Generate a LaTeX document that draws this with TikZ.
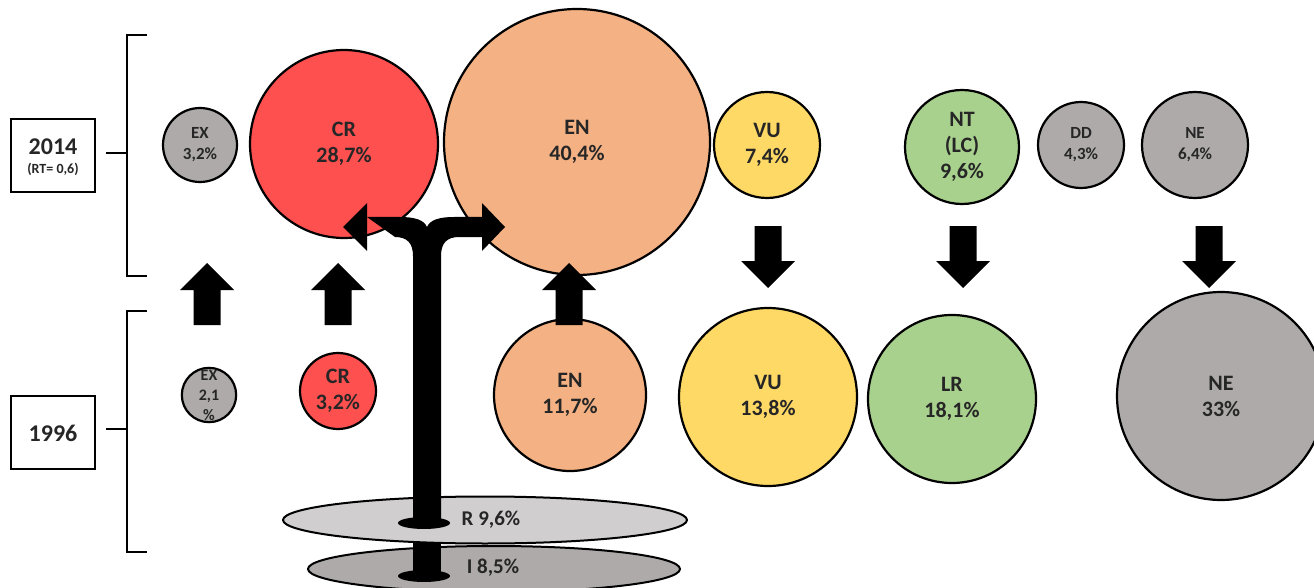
\documentclass[tikz,border=0pt]{standalone}
\usepackage{fontspec}
\setmainfont{Carlito}
\usetikzlibrary{shapes.geometric}
\definecolor{txt}{HTML}{262626}
\definecolor{crc}{HTML}{FF5050}
\definecolor{enc}{HTML}{F4B183}
\definecolor{vuc}{HTML}{FFD966}
\definecolor{ntc}{HTML}{A9D18E}
\definecolor{grc}{HTML}{AEAAAA}
\definecolor{rc}{HTML}{D0CECE}
\tikzset{
  circ/.style={circle, draw=black, line width=2.2pt, inner sep=0pt, align=center, text=txt,
    font=\bfseries\fontsize{22}{26}\selectfont},
  smalltxt/.style={font=\bfseries\fontsize{17}{21}\selectfont},
  yearbox/.style={draw=black, line width=2.2pt, minimum width=84pt, minimum height=73pt, inner sep=0pt},
  yeartxt/.style={text=txt, inner sep=0pt, font=\bfseries\fontsize{24}{26}\selectfont},
  brack/.style={line width=2.2pt},
  disc/.style={ellipse, draw=black, line width=2pt, inner sep=0pt},
  lab/.style={text=txt, font=\bfseries\fontsize{21}{24}\selectfont},
  uparr/.pic={\fill[black] (0,0) -- (27,27) -- (13.5,27) -- (13.5,62) -- (-13.5,62) -- (-13.5,27) -- (-27,27) -- cycle;},
  downarr/.pic={\fill[black] (0,0) -- (27,-27) -- (13.5,-27) -- (13.5,-62) -- (-13.5,-62) -- (-13.5,-27) -- (-27,-27) -- cycle;}
}
\begin{document}
\begin{tikzpicture}[x=1pt,y=-1pt]
\useasboundingbox (0,0) rectangle (1314,588);
\clip (0,0) rectangle (1314,588);
% year boxes and brackets
\node[yearbox] (y2014) at (53,155.5) {};
\node[yeartxt] (t2014) at (53,147) {2014};
\node[yeartxt, font=\bfseries\fontsize{14}{16}\selectfont] (rt2014) at (53,169) {(RT= 0,6)};
\node[yearbox] (y1996) at (53,432.5) {};
\node[yeartxt] (t1996) at (53,433) {1996};
\coordinate (b1t) at (147,35); \coordinate (b1b) at (147,276); \coordinate (b1m) at (106,153);
\coordinate (b2t) at (147,311); \coordinate (b2b) at (147,552); \coordinate (b2m) at (106,429);
\draw[brack] (b1t) -- (127,35) -- (127,276) -- (b1b);
\draw[brack] (b1m) -- (127,153);
\draw[brack] (b2t) -- (127,311) -- (127,552) -- (b2b);
\draw[brack] (b2m) -- (127,429);
% 2014 circles
\node[circ, fill=grc, minimum size=74pt, smalltxt] (ex14) at (200,145) {EX\\3,2\%};
\node[circ, fill=crc, minimum size=188pt] (cr14) at (344,144) {CR\\28,7\%};
\node[circ, fill=enc, minimum size=266pt] (en14) at (577,142) {EN\\40,4\%};
\node[circ, fill=vuc, minimum size=106pt] (vu14) at (767,145) {VU\\7,4\%};
\node[circ, fill=ntc, minimum size=114pt] (nt14) at (962,147) {NT\\(LC)\\9,6\%};
\node[circ, fill=grc, minimum size=86pt, smalltxt] (dd14) at (1081,145) {DD\\4,3\%};
\node[circ, fill=grc, minimum size=106pt, smalltxt] (ne14) at (1195,145) {NE\\6,4\%};
% 1996 circles
\node[circ, fill=grc, minimum size=52pt, font=\bfseries\fontsize{16}{20}\selectfont] (ex96) at (209,395) {EX\\2,1\\\%};
\node[circ, fill=crc, minimum size=76pt] (cr96) at (338,391) {CR\\3,2\%};
\node[circ, fill=enc, minimum size=152pt] (en96) at (570,395) {EN\\11,7\%};
\node[circ, fill=vuc, minimum size=178pt] (vu96) at (768,397) {VU\\13,8\%};
\node[circ, fill=ntc, minimum size=168pt] (lr96) at (952,399) {LR\\18,1\%};
\node[circ, fill=grc, minimum size=208pt] (ne96) at (1221,396) {NE\\33\%};
% discs
\node[disc, fill=grc, minimum width=372pt, minimum height=46pt] (idisc) at (494,569) {};
\fill[black] (413,535) rectangle (441,576);
\fill[black] (424,576) ellipse [x radius=26, y radius=6];
\node[disc, fill=rc, minimum width=404pt, minimum height=47pt] (rdisc) at (485,520) {};
\node[lab] (rlab) at (491,520) {R 9,6\%};
\node[lab] (ilab) at (493,568) {I 8,5\%};
% T arrow
\fill[black] (367,217) -- (400,217) .. controls (415,217) and (424,220) .. (427,227)
  .. controls (430,220) and (439,217) .. (454,217) -- (482,217) -- (482,237) -- (459,237)
  .. controls (447,237) and (441,243) .. (441,256) -- (441,523) -- (413,523) -- (413,256)
  .. controls (413,243) and (407,237) .. (395,237) -- cycle;
\fill[black] (367,203) -- (343,227) -- (367,251) -- cycle;
\fill[black] (482,203) -- (505,227) -- (482,251) -- cycle;
\fill[black] (424,523) ellipse [x radius=26, y radius=6];
% block arrows
\pic at (207,263) {uparr};
\pic at (338,263) {uparr};
\pic at (569,263) {uparr};
\pic at (768,288) {downarr};
\pic at (963,288) {downarr};
\pic at (1209,288) {downarr};
\end{tikzpicture}
\end{document}
